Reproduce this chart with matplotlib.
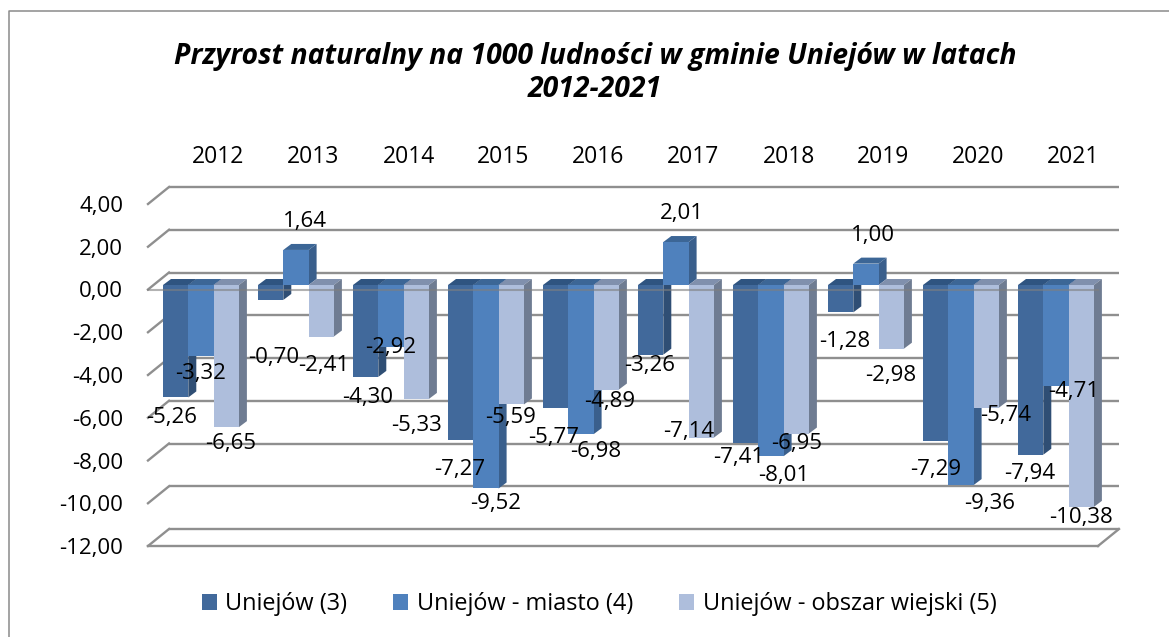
import matplotlib
matplotlib.use("Agg")
import matplotlib.pyplot as plt
from matplotlib.lines import Line2D
from matplotlib.transforms import Affine2D

plt.rcParams["font.family"] = ["Open Sans", "DejaVu Sans"]

years = ["2012", "2013", "2014", "2015", "2016", "2017", "2018", "2019", "2020", "2021"]
gmina = [-5.26, -0.70, -4.30, -7.27, -5.77, -3.26, -7.41, -1.28, -7.29, -7.94]
miasto = [-3.32, 1.64, -2.92, -9.52, -6.98, 2.01, -8.01, 1.00, -9.36, -4.71]
wies = [-6.65, -2.41, -5.33, -5.59, -4.89, -7.14, -6.95, -2.98, -5.74, -10.38]
series_names = ["Uniejów (3)", "Uniejów - miasto (4)", "Uniejów - obszar wiejski (5)"]
y_ticks = [4, 2, 0, -2, -4, -6, -8, -10, -12]
title = "Przyrost naturalny na 1000 ludności w gminie Uniejów w latach\n2012-2021"

# label centres in reference pixels, one row per series
label_x = [
    [172, 274, 368, 460, 554, 650, 739, 845, 936, 1030],
    [201, 305, 391, 496, 596, 682, 784, 873, 990, 1074],
    [231, 324, 416, 511, 610, 689, 797, 891, 1006, 1081],
]
label_y = [
    [417, 358, 397, 470, 437, 365, 457, 341, 470, 474],
    [373, 222, 347, 504, 452, 213, 475, 236, 504, 391],
    [443, 365, 426, 417, 401, 431, 443, 375, 415, 517],
]

# front, side, top
colors = [
    ("#41699B", "#2F4E74", "#2F5480"),
    ("#4F81BD", "#3A5F8C", "#3C6696"),
    ("#AEBEDC", "#6F7C92", "#8090AD"),
]

W, H = 1169, 637
fig = plt.figure(figsize=(W / 100, H / 100), dpi=100)
px = Affine2D().scale(1 / W, -1 / H).translate(0, 1) + fig.transFigure
# outer frame is cut off on the right and at the bottom
fig.add_artist(Line2D([8.5, 8.5, W], [H, 10.5, 10.5], transform=px, color="#8a8a8a", lw=1.1))

# front plane of the chart: x 148..1098, y(4)=204, y(-12)=546
ax = fig.add_axes([148 / W, 1 - 546 / H, 950 / W, 342 / H])
ax.set_xlim(0, 10)
ax.set_ylim(-12, 4)
for s in ax.spines.values():
    s.set_visible(False)
ax.patch.set_visible(False)

PX_X = 10 / 950
PX_Y = 16 / 342
wall_dx, wall_dy = 21 * PX_X, 17 * PX_Y
grid_c = "#8f8f8f"

for v in y_ticks:
    ax.plot([wall_dx, 10 + wall_dx], [v + wall_dy] * 2, color=grid_c, lw=1.7, zorder=1, clip_on=False,
            solid_capstyle="butt")
    ax.plot([0, wall_dx], [v, v + wall_dy], color=grid_c, lw=1.7, zorder=1, clip_on=False)
ax.plot([0, 10], [-12, -12], color=grid_c, lw=1.7, zorder=1, clip_on=False)
ax.plot([10, 10 + wall_dx], [-12, -12 + wall_dy], color=grid_c, lw=1.7, zorder=1, clip_on=False)

bar_w = 25.3 * PX_X
base = 4.5 * PX_Y
depth_x, depth_y = 8 * PX_X, 6 * PX_Y
start = 15 * PX_X

handles = []
z = 3
for s, values in enumerate([gmina, miasto, wies]):
    front, side, top = colors[s]
    handle = None
    for i, v in enumerate(values):
        x0 = i + start + s * bar_w
        x1 = x0 + bar_w
        y_top = base + max(v, 0)
        y_bot = base + min(v, 0)
        ax.fill([x0, x1, x1 + depth_x, x0 + depth_x], [y_top, y_top, y_top + depth_y, y_top + depth_y],
                color=top, lw=0, zorder=z, clip_on=False)
        ax.fill([x1, x1 + depth_x, x1 + depth_x, x1], [y_bot, y_bot + depth_y, y_top + depth_y, y_top],
                color=side, lw=0, zorder=z, clip_on=False)
        b = ax.bar(x0, v, bar_w, bottom=base, align="edge", color=front, lw=0, zorder=z + 0.5, clip_on=False)
        if handle is None:
            handle = b
    handles.append(handle)
    z += 1

# zero line of the front plane runs over the bars
ax.plot([0, 10], [0, 0], color="#7f7f7f", lw=1.5, alpha=0.6, zorder=8, clip_on=False)

ax.set_yticks(y_ticks)
ax.set_yticklabels([f"{v:.2f}".replace(".", ",") for v in y_ticks], fontsize=16, color="black")
ax.tick_params(axis="y", length=0, pad=18)
ax.xaxis.tick_top()
ax.set_xticks([i + 0.5 + wall_dx + 2 * PX_X for i in range(10)])
ax.set_xticklabels(years, fontsize=16.5, color="black")
ax.tick_params(axis="x", length=0, pad=25)

for s, values in enumerate([gmina, miasto, wies]):
    for i, v in enumerate(values):
        ax.text(label_x[s][i], label_y[s][i], f"{v:.2f}".replace(".", ","), transform=px, fontsize=16,
                ha="center", va="center", color="black", zorder=10, clip_on=False)

fig.text(595 / W, 1 - 73 / H, title, fontsize=20.4, fontweight="bold", fontstyle="italic", ha="center",
         va="center", linespacing=1.22, color="black")

fig.legend(handles, series_names, loc="center", bbox_to_anchor=(599 / W, 1 - 604 / H), ncol=3, frameon=False,
           fontsize=16.9, handlelength=0.64, handleheight=0.64, handletextpad=0.35, columnspacing=1.98,
           labelcolor="black")

fig.savefig("out.png", dpi=100)
